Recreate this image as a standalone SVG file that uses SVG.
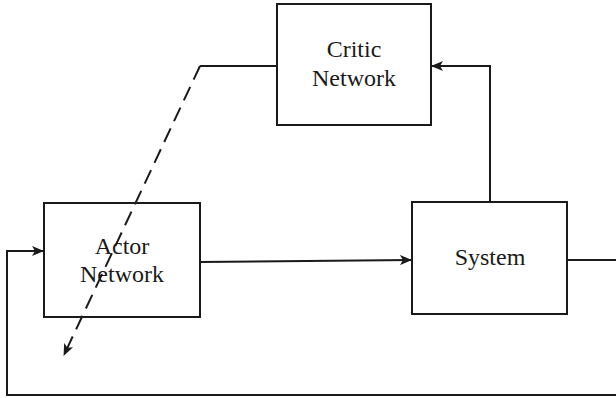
<svg xmlns="http://www.w3.org/2000/svg" width="616" height="398" viewBox="0 0 616 398">
<style>
.box{fill:#fff;stroke:#1a1a1a;stroke-width:2}
.lbl{font-family:"Liberation Serif",serif;font-size:24px;fill:#1a1a1a;text-anchor:middle}
.ln{fill:none;stroke:#1a1a1a;stroke-width:2}
</style>
<defs>
<marker id="ah" markerWidth="12" markerHeight="10" refX="11" refY="5" orient="auto" markerUnits="userSpaceOnUse">
<path d="M0,0 L12,5 L0,10 L3,5 Z" fill="#1a1a1a"/>
</marker>
</defs>
<g id="critic"><rect class="box" x="277" y="4" width="154" height="121"/><text class="lbl" x="354" y="57">Critic</text><text class="lbl" x="354" y="86">Network</text></g>
<g id="system"><rect class="box" x="412" y="202" width="155" height="112"/><text class="lbl" x="490" y="265">System</text></g>
<g id="actor"><rect class="box" x="44" y="203" width="156" height="114"/><text class="lbl" x="122" y="254">Actor</text><text class="lbl" x="122" y="282">Network</text></g>
<g id="connectors">
<path class="ln" d="M200,262 L411,260" marker-end="url(#ah)"/>
<path class="ln" d="M490,202 L490,66 L432,66" marker-end="url(#ah)"/>
<path class="ln" d="M567,260 L616,260"/>
<path class="ln" d="M616,395 L7,395 L7,251 L43,251" marker-end="url(#ah)"/>
<path class="ln" d="M277,66 L200,66"/>
<path class="ln" d="M200,66 L64,355" stroke-dasharray="15 8" marker-end="url(#ah)"/>
</g>
</svg>
